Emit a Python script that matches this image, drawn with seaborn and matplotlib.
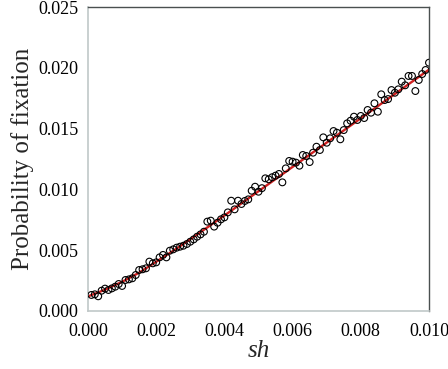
import numpy as np
import pandas as pd
import matplotlib
matplotlib.use("Agg")
import matplotlib.pyplot as plt
import seaborn as sns

sns.set_style("white")
plt.rcParams["font.family"] = ["Liberation Serif", "DejaVu Serif"]

# --- simulated fixation probabilities (x1000), sh = 0.0001 .. 0.0100
sim_sh = np.arange(1, 101) / 10000
sim_fix = np.array([
    1.32, 1.37, 1.21, 1.67, 1.84, 1.73, 1.86, 2.00, 2.22, 2.06,
    2.55, 2.60, 2.69, 2.96, 3.37, 3.43, 3.51, 4.06, 3.92, 4.00,
    4.41, 4.61, 4.41, 4.96, 5.07, 5.21, 5.29, 5.37, 5.51, 5.70,
    5.89, 6.11, 6.30, 6.52, 7.35, 7.43, 6.94, 7.26, 7.54, 7.70,
    8.11, 9.07, 8.36, 9.07, 8.80, 9.05, 9.18, 9.89, 10.22, 9.81,
    10.10, 10.91, 10.83, 11.00, 11.13, 11.27, 10.58, 11.73, 12.34, 12.28,
    12.20, 11.95, 12.83, 12.75, 12.25, 13.02, 13.51, 13.24, 14.28, 13.84,
    14.20, 14.80, 14.66, 14.12, 14.88, 15.43, 15.65, 15.98, 15.71, 16.04,
    15.87, 16.53, 16.31, 17.08, 16.39, 17.82, 17.35, 17.43, 18.17, 17.95,
    18.23, 18.86, 18.56, 19.33, 19.33, 18.09, 19.00, 19.49, 19.82, 20.42,
]) / 1000

# --- theoretical curve
theory_sh = np.array([0.0, 0.0005, 0.001, 0.0015, 0.002, 0.0025, 0.003,
                      0.004, 0.005, 0.006, 0.007, 0.008, 0.009, 0.010])
theory_fix = np.array([1.20, 1.75, 2.40, 3.15, 4.05, 4.95, 5.90,
                       7.85, 9.85, 11.85, 13.85, 15.85, 17.85, 19.85]) / 1000

sim = pd.DataFrame({"sh": sim_sh, "fix": sim_fix})
theory = pd.DataFrame({"sh": theory_sh, "fix": theory_fix})

fig = plt.figure(figsize=(4.48, 3.69), dpi=100)
ax = fig.add_axes([0.1964, 0.1572, 0.7612, 0.8238])

sns.lineplot(data=theory, x="sh", y="fix", color="#d02020", lw=1.7, ax=ax, zorder=2)
sns.scatterplot(data=sim, x="sh", y="fix", marker="o", s=24, facecolor="none",
                edgecolor="black", linewidth=0.8, ax=ax, zorder=3)

xt = np.arange(0, 0.0101, 0.002)
yt = np.arange(0, 0.0251, 0.005)
ax.set_xlim(0, 0.010)
ax.set_ylim(0, 0.025)
ax.set_xticks(xt)
ax.set_yticks(yt)
ax.set_xticklabels([f"{v:.3f}" for v in xt])
ax.set_yticklabels([f"{v:.3f}" for v in yt])
ax.tick_params(direction="out", length=3, width=0.8, color="#b0b8b8",
               labelsize=13, labelcolor="black", pad=4)
ax.tick_params(axis="x", pad=6)

for side in ["left", "bottom"]:
    ax.spines[side].set_color("#c0c8c8")
    ax.spines[side].set_linewidth(1.2)
for side in ["top", "right"]:
    ax.spines[side].set_color("#4a5050")
    ax.spines[side].set_linewidth(1.0)

ax.set_xlabel("sh", fontsize=18, style="italic", labelpad=0)
ax.set_ylabel("Probability of fixation", fontsize=18, labelpad=3)

fig.savefig("out.png", dpi=100)
